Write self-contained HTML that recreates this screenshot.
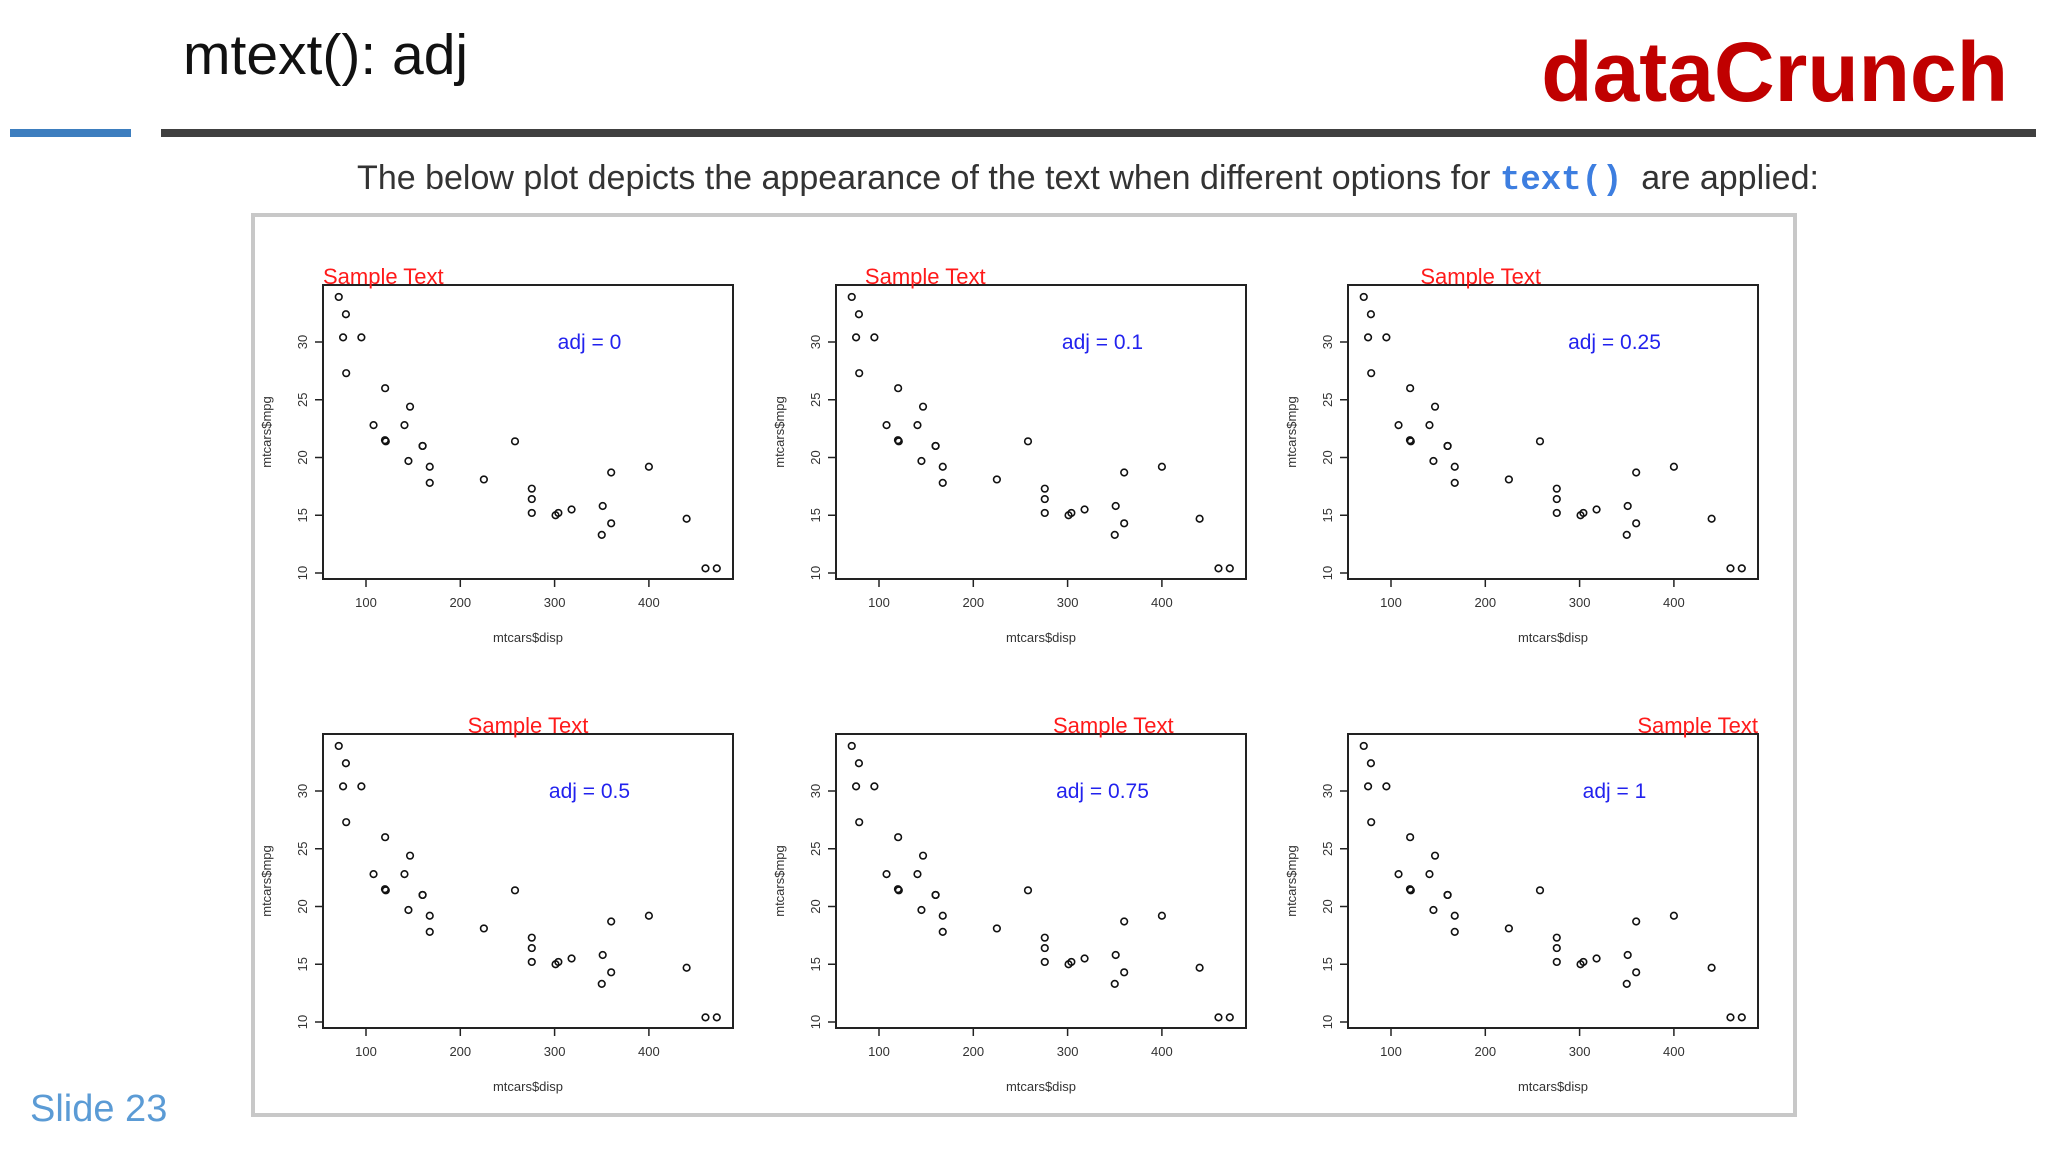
<!DOCTYPE html>
<html><head><meta charset="utf-8"><style>
body{margin:0;width:2048px;height:1152px;background:#fff;overflow:hidden;font-family:"Liberation Sans",sans-serif;position:relative}
.abs{position:absolute}
</style></head><body>
<div class="abs" style="left:183px;top:22px;font-size:57px;color:#111;">mtext(): adj</div>
<div class="abs" style="right:40px;top:24px;font-size:84px;font-weight:bold;color:#c00000;">dataCrunch</div>
<div class="abs" style="left:10px;top:129px;width:121px;height:8px;background:#3d7ebf"></div>
<div class="abs" style="left:161px;top:129px;width:1875px;height:8px;background:#404040"></div>
<div class="abs" style="left:0;width:2176px;text-align:center;top:159px;font-size:34px;color:#333">The below plot depicts the appearance of the text when different options for <span style="font-family:'Liberation Mono',monospace;color:#3d7ee0;font-weight:bold">text()</span>&nbsp; are applied:</div>
<div class="abs" style="left:30px;top:1088px;font-size:38px;color:#5b9bd5">Slide 23</div>
<svg class="abs" style="left:0;top:0" width="2048" height="1152" id="chart">
<rect x="253" y="215" width="1542" height="900" fill="#fff" stroke="#c8c8c8" stroke-width="4"/>
</svg>
<script>
const disp=[160,160,108,258,360,225,360,146.7,140.8,167.6,167.6,275.8,275.8,275.8,472,460,440,78.7,75.7,71.1,120.1,318,304,350,400,79,120.3,95.1,351,145,301,121];
const mpg=[21,21,22.8,21.4,18.7,18.1,14.3,24.4,22.8,19.2,17.8,16.4,17.3,15.2,10.4,10.4,14.7,32.4,30.4,33.9,21.5,15.5,15.2,13.3,19.2,27.3,26,30.4,15.8,19.7,15,21.4];
const adjs=[0,0.1,0.25,0.5,0.75,1];
const adjLabels=["adj = 0","adj = 0.1","adj = 0.25","adj = 0.5","adj = 0.75","adj = 1"];
const xTicks=[100,200,300,400];
const yTicks=[10,15,20,25,30];
const NS="http://www.w3.org/2000/svg";
const svg=document.getElementById('chart');
function mk(t,a,p){const e=document.createElementNS(NS,t);for(const k in a)e.setAttribute(k,a[k]);(p||svg).appendChild(e);return e;}
const lefts=[323,836,1348], tops=[285,734], W=410, H=294;
adjs.forEach((adj,i)=>{
  const L=lefts[i%3], T=tops[Math.floor(i/3)];
  const sx=v=>L+43+(v-100)*0.943;
  const sy=v=>T+288-(v-10)*11.55;
  const g=mk('g',{});
  
  
  const box=mk('rect',{x:L,y:T,width:W,height:H,fill:'none',stroke:'#222','stroke-width':2},g);
  
  
  xTicks.forEach(t=>{
    const x=sx(t);
    const tk=mk('line',{x1:x,x2:x,y1:T+H,y2:T+H+8,stroke:'#222','stroke-width':1.5},g);
    
    
    const tl=mk('text',{x:x,y:T+H+28,'font-size':13,'text-anchor':'middle',fill:'#333'},g);
    tl.textContent=t;
    
    
  });
  yTicks.forEach(t=>{
    const y=sy(t);
    const tk=mk('line',{x1:L-8,x2:L,y1:y,y2:y,stroke:'#222','stroke-width':1.5},g);
    
    
    const tl=mk('text',{x:0,y:0,'font-size':13,'text-anchor':'middle',fill:'#333',transform:`translate(${L-16},${y}) rotate(-90)`},g);
    tl.textContent=t;
    
    
  });
  const xl=mk('text',{x:L+W/2,y:T+H+63,'font-size':13,'text-anchor':'middle',fill:'#333'},g);
  xl.textContent='mtcars$disp';
  
  
  const yl=mk('text',{x:0,y:0,'font-size':13,'text-anchor':'middle',fill:'#333',transform:`translate(${L-52},${T+147}) rotate(-90)`},g);
  yl.textContent='mtcars$mpg';
  
  
  disp.forEach((d,j)=>{
    const c=mk('circle',{cx:sx(d),cy:sy(mpg[j]),r:3.3,fill:'none',stroke:'#111','stroke-width':1.6},g);
    
    
  });
  const st=mk('text',{x:L+adj*W,y:T-1,'font-size':22,fill:'#ff1a1a','text-anchor':'start'},g);
  st.textContent='Sample Text';
  
  
  const w=st.getComputedTextLength();
  st.setAttribute('x',L+adj*W-adj*w);
  const al=mk('text',{x:sx(337),y:sy(30)+7,'font-size':21,fill:'#2222ee','text-anchor':'middle'},g);
  al.textContent=adjLabels[i];
  
  
});
</script>
</body></html>
